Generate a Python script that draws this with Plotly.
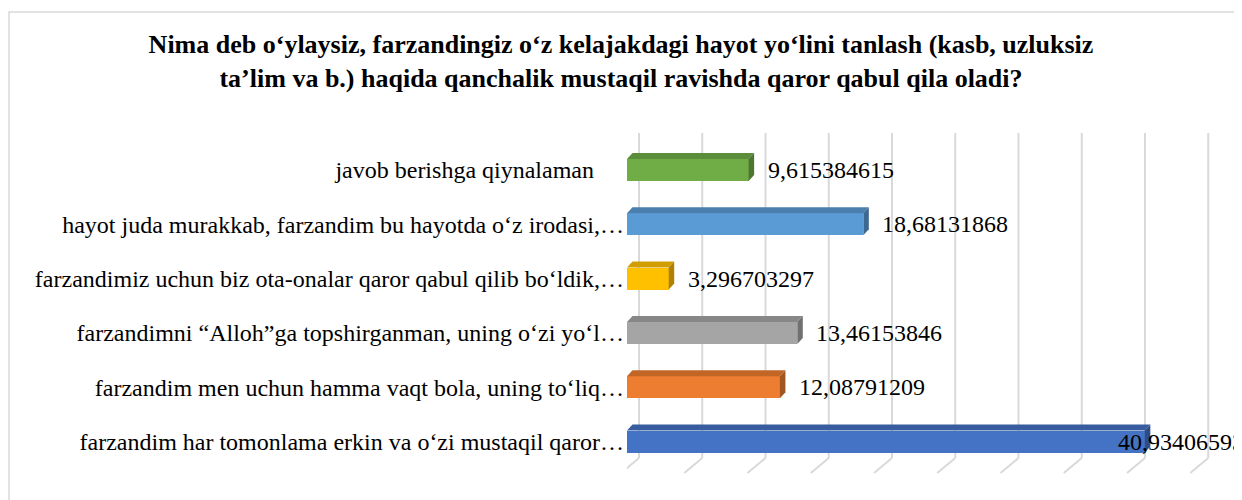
import plotly.graph_objects as go

# ---------------- data ----------------
categories = [
    "farzandim har tomonlama erkin va o‘zi mustaqil qaror…",
    "farzandim men uchun hamma vaqt bola, uning to‘liq…",
    "farzandimni “Alloh”ga topshirganman, uning o‘zi yo‘l…",
    "farzandimiz uchun biz ota-onalar qaror qabul qilib bo‘ldik,…",
    "hayot juda murakkab, farzandim bu hayotda o‘z irodasi,…",
    "javob berishga qiynalaman",
]
values = [40.93406593, 12.08791209, 13.46153846, 3.296703297, 18.68131868, 9.615384615]
colors = ["#4472C4", "#ED7D31", "#A5A5A5", "#FFC000", "#5B9BD5", "#70AD47"]
grid_ticks = list(range(0, 50, 5))
title_text = ("Nima deb o‘ylaysiz, farzandingiz o‘z kelajakdagi hayot yo‘lini tanlash (kasb, uzluksiz"
              "<br>ta’lim va b.) haqida qanchalik mustaqil ravishda qaror qabul qila oladi?")

# ---------------- geometry / style ----------------
PAGE_OFF = 8                       # default body margin of the html page
W, H = 1242 - PAGE_OFF, 500 - PAGE_OFF


def fx(px):  # page px -> figure px
    return px - PAGE_OFF


ML = fx(627)
MR = 0
MT = fx(127)
MB = H - fx(480)
plot_w = W - ML - MR
plot_h = H - MT - MB
PX_PER_UNIT = 12.65
ROW_PX = 54.3
Y0_CENTER = fx(441.5)
x_range = [0, plot_w / PX_PER_UNIT]
y_bottom = -((H - MB) - Y0_CENTER) / ROW_PX
y_range = [y_bottom, y_bottom + plot_h / ROW_PX]

BAR_W = 22 / ROW_PX          # bar thickness in row units
DX = 5.5 / PX_PER_UNIT       # depth offset x (units)
DY = 6 / ROW_PX              # depth offset y (row units)
WALL_DX = 12 / PX_PER_UNIT
WALL_TOP = (Y0_CENTER - fx(133)) / ROW_PX
WALL_BOT = -(fx(458) - Y0_CENTER) / ROW_PX
FLOOR_FRONT_Y = -(fx(473) - Y0_CENTER) / ROW_PX
FLOOR_FRONT_DX = -18 / PX_PER_UNIT
FONT = "Liberation Serif, Times New Roman, serif"
GRID_COLOR = "#D9D9D9"


def shade(hex_color, f):
    h = hex_color.lstrip("#")
    r, g, b = (int(h[i:i + 2], 16) for i in (0, 2, 4))
    return "rgb(%d,%d,%d)" % (int(r * f), int(g * f), int(b * f))


ypos = list(range(len(categories)))
ticktext = [c if c.endswith("…") else c + "\u00a0" * 5 for c in categories]

fig = go.Figure()

# front faces
fig.add_trace(go.Bar(
    x=values, y=ypos, orientation="h", width=BAR_W,
    marker=dict(color=colors, line=dict(width=0)),
    hoverinfo="skip", showlegend=False,
))

# top and side faces (3D look)
for v, yc, c in zip(values, ypos, colors):
    top = yc + BAR_W / 2
    bot = yc - BAR_W / 2
    fig.add_trace(go.Scatter(
        x=[0, v, v + DX, DX, 0], y=[top, top, top + DY, top + DY, top],
        fill="toself", fillcolor=shade(c, 0.82), mode="lines",
        line=dict(width=0, color=shade(c, 0.82)), hoverinfo="skip", showlegend=False,
    ))
    fig.add_trace(go.Scatter(
        x=[v, v, v + DX, v + DX, v], y=[bot, top, top + DY, bot + DY, bot],
        fill="toself", fillcolor=shade(c, 0.68), mode="lines",
        line=dict(width=0, color=shade(c, 0.68)), hoverinfo="skip", showlegend=False,
    ))

# gridlines on back wall + floor
shapes = []
for k in grid_ticks:
    xw = k + WALL_DX
    shapes.append(dict(type="line", xref="x", yref="y", x0=xw, x1=xw, y0=WALL_BOT, y1=WALL_TOP,
                       line=dict(color=GRID_COLOR, width=2), layer="below"))
    shapes.append(dict(type="line", xref="x", yref="y", x0=xw, x1=xw + FLOOR_FRONT_DX,
                       y0=WALL_BOT, y1=FLOOR_FRONT_Y,
                       line=dict(color=GRID_COLOR, width=2), layer="below"))

# chart border
shapes.append(dict(type="rect", xref="paper", yref="paper",
                   x0=(1 - ML) / plot_w, x1=1.1, y0=-0.3, y1=((H - MB) - fx(12)) / plot_h,
                   line=dict(color=GRID_COLOR, width=1.5), fillcolor="rgba(0,0,0,0)", layer="below"))

# data labels
annotations = []
vmax = max(values)
for v, yc in zip(values, ypos):
    shift = -29 if v == vmax else 17
    annotations.append(dict(
        x=v, y=yc, xref="x", yref="y", text=f"{v:.10g}".replace(".", ","),
        showarrow=False, xanchor="left", yanchor="middle", xshift=shift, yshift=0,
        font=dict(family=FONT, size=24, color="#000000"),
    ))

fig.update_layout(
    width=W, height=H,
    margin=dict(l=ML, r=MR, t=MT, b=MB, autoexpand=False),
    paper_bgcolor="white", plot_bgcolor="rgba(0,0,0,0)",
    title=dict(text=title_text, x=(621 - PAGE_OFF) / W, xanchor="center", xref="container",
               y=1 - 45 / H, yanchor="top", yref="container",
               font=dict(family=FONT, size=26, color="#000000", weight="bold")),
    shapes=shapes, annotations=annotations, showlegend=False,
    bargap=0,
)
fig.update_xaxes(range=x_range, showgrid=False, zeroline=False, showticklabels=False,
                 showline=False, ticks="", fixedrange=True)
fig.update_yaxes(range=y_range, tickmode="array", tickvals=ypos, ticktext=ticktext,
                 showgrid=False, zeroline=False, showline=False, ticks="",
                 tickfont=dict(family=FONT, size=24, color="#000000"), automargin=False,
                 ticklabelstandoff=2, fixedrange=True)

fig.write_html("out.html")
